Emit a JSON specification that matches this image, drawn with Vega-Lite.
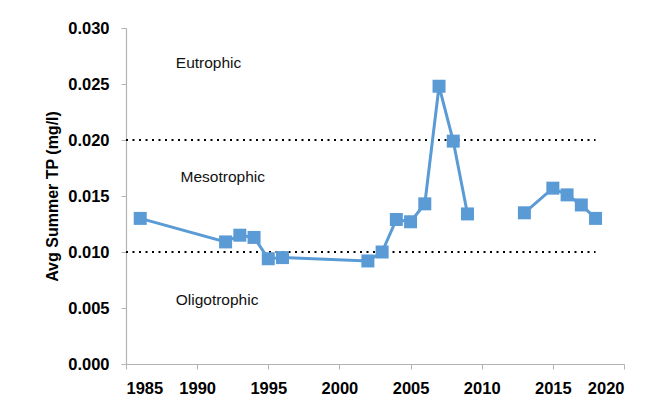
{
  "$schema": "https://vega.github.io/schema/vega-lite/v6.json",
  "width": 498,
  "height": 336,
  "autosize": {"type": "none"},
  "padding": {"left": 126, "top": 28, "right": 31, "bottom": 46},
  "background": "white",
  "config": {
    "view": {"stroke": null},
    "font": "Liberation Sans",
    "axis": {
      "grid": false,
      "domainColor": "#b3b3b3",
      "tickColor": "#b3b3b3",
      "domainWidth": 1.2,
      "tickSize": 5,
      "labelFont": "Liberation Sans",
      "labelFontWeight": "bold",
      "labelFontSize": 16.5,
      "labelColor": "#000000",
      "titleFont": "Liberation Sans",
      "titleFontWeight": "bold",
      "titleFontSize": 16,
      "titleColor": "#000000"
    }
  },
  "datasets": {
    "tp": [
      {"year": 1986, "tp": 0.0130, "segment": 1},
      {"year": 1992, "tp": 0.0109, "segment": 1},
      {"year": 1993, "tp": 0.0115, "segment": 1},
      {"year": 1994, "tp": 0.0113, "segment": 1},
      {"year": 1995, "tp": 0.0094, "segment": 1},
      {"year": 1996, "tp": 0.0095, "segment": 1},
      {"year": 2002, "tp": 0.0092, "segment": 1},
      {"year": 2003, "tp": 0.0100, "segment": 1},
      {"year": 2004, "tp": 0.0129, "segment": 1},
      {"year": 2005, "tp": 0.0127, "segment": 1},
      {"year": 2006, "tp": 0.0143, "segment": 1},
      {"year": 2007, "tp": 0.0248, "segment": 1},
      {"year": 2008, "tp": 0.0199, "segment": 1},
      {"year": 2009, "tp": 0.0134, "segment": 1},
      {"year": 2013, "tp": 0.0135, "segment": 2},
      {"year": 2015, "tp": 0.0157, "segment": 2},
      {"year": 2016, "tp": 0.0151, "segment": 2},
      {"year": 2017, "tp": 0.0142, "segment": 2},
      {"year": 2018, "tp": 0.0130, "segment": 2}
    ],
    "thresholds": [
      {"start": 1985, "end": 2018, "value": 0.010},
      {"start": 1985, "end": 2018, "value": 0.020}
    ],
    "zones": [
      {"year": 1990.8, "value": 0.0269, "label": "Eutrophic"},
      {"year": 1991.8, "value": 0.0167, "label": "Mesotrophic"},
      {"year": 1991.4, "value": 0.0057, "label": "Oligotrophic"}
    ]
  },
  "layer": [
    {
      "data": {"name": "thresholds"},
      "mark": {"type": "rule", "color": "#000000", "strokeWidth": 2, "strokeDash": [2, 4.5]},
      "encoding": {
        "x": {"field": "start", "type": "quantitative", "scale": {"domain": [1985, 2020], "nice": false, "zero": false},
          "axis": {"values": [1985, 1990, 1995, 2000, 2005, 2010, 2015, 2020], "format": "d", "title": null, "labelPadding": 11}},
        "x2": {"field": "end"},
        "y": {"field": "value", "type": "quantitative", "scale": {"domain": [0, 0.03], "nice": false},
          "axis": {"values": [0, 0.005, 0.01, 0.015, 0.02, 0.025, 0.03], "format": ".3f", "title": "Avg Summer TP (mg/l)", "labelPadding": 12, "titlePadding": 7}}
      }
    },
    {
      "data": {"name": "tp"},
      "mark": {"type": "line", "color": "#5B9BD5", "strokeWidth": 3},
      "encoding": {
        "x": {"field": "year", "type": "quantitative"},
        "y": {"field": "tp", "type": "quantitative"},
        "detail": {"field": "segment", "type": "nominal"}
      }
    },
    {
      "data": {"name": "tp"},
      "mark": {"type": "point", "shape": "square", "filled": true, "size": 169, "color": "#5B9BD5", "opacity": 1},
      "encoding": {
        "x": {"field": "year", "type": "quantitative"},
        "y": {"field": "tp", "type": "quantitative"}
      }
    },
    {
      "data": {"name": "zones"},
      "mark": {"type": "text", "font": "Liberation Sans", "fontSize": 15.5, "color": "#111111", "align": "center", "baseline": "middle"},
      "encoding": {
        "x": {"field": "year", "type": "quantitative"},
        "y": {"field": "value", "type": "quantitative"},
        "text": {"field": "label", "type": "nominal"}
      }
    }
  ]
}
